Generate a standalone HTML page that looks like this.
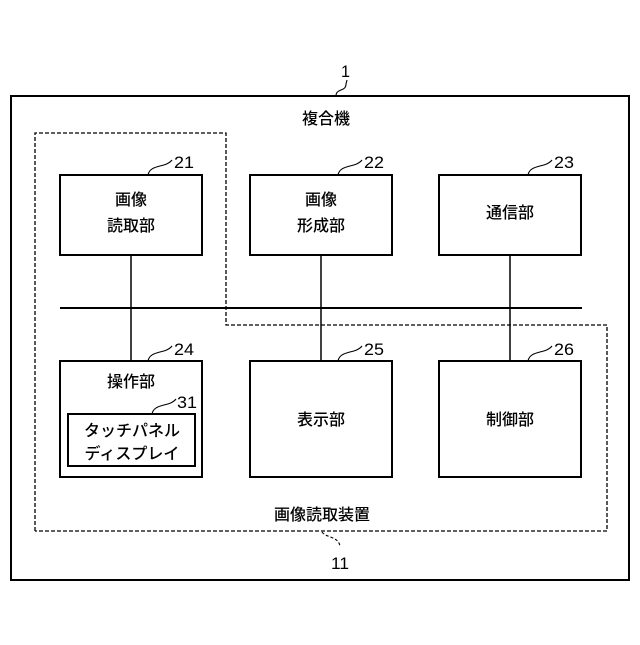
<!DOCTYPE html>
<html><head><meta charset="utf-8"><style>
html,body{margin:0;padding:0;background:#fff;}
text{font-family:"Liberation Sans","Noto Sans CJK JP",sans-serif;fill:#000;}
</style></head><body>
<svg width="640" height="640" viewBox="0 0 640 640" xmlns="http://www.w3.org/2000/svg">
<g fill="none" stroke="#000" stroke-width="2">
<rect x="11" y="96" width="618" height="484"/>
<rect x="60" y="175" width="142" height="80"/>
<rect x="250" y="175" width="142" height="80"/>
<rect x="439" y="175" width="142" height="80"/>
<rect x="60" y="361" width="142" height="116"/>
<rect x="68" y="414" width="127" height="52"/>
<rect x="250" y="361" width="142" height="116"/>
<rect x="439" y="361" width="142" height="116"/>
<line x1="60" y1="308" x2="582" y2="308"/>
</g>
<g fill="none" stroke="#000" stroke-width="1.5">
<line x1="131" y1="255" x2="131" y2="361"/>
<line x1="321" y1="255" x2="321" y2="361"/>
<line x1="510" y1="255" x2="510" y2="361"/>
</g>
<polyline points="35,531 35,133 226,133 226,325 607,325 607,531 35,531" fill="none" stroke="#000" stroke-width="1.3" stroke-dasharray="4,2"/>
<g fill="none" stroke="#000" stroke-width="1.1">
<path d="M336,96 C336,88 346,92 346,84 L347,80"/>
<path d="M148,175 C150,164 166,168 172,160"/>
<path d="M338,175 C340,164 356,168 362,160"/>
<path d="M528,175 C530,164 546,168 552,160"/>
<path d="M148,361 C150,350 166,354 172,346"/>
<path d="M338,361 C340,350 356,354 362,346"/>
<path d="M528,361 C530,350 546,354 552,346"/>
<path d="M152,414 C154,403 170,407 176,399"/>
<path d="M322,532 C326,538 338,536 340,546" stroke-dasharray="3,2"/>
</g>
<g font-size="17">
<text x="341" y="77" textLength="9" lengthAdjust="spacingAndGlyphs">1</text>
<text x="174" y="168" textLength="20" lengthAdjust="spacingAndGlyphs">21</text>
<text x="364" y="168" textLength="20" lengthAdjust="spacingAndGlyphs">22</text>
<text x="554" y="168" textLength="20" lengthAdjust="spacingAndGlyphs">23</text>
<text x="174" y="355" textLength="20" lengthAdjust="spacingAndGlyphs">24</text>
<text x="364" y="355" textLength="20" lengthAdjust="spacingAndGlyphs">25</text>
<text x="554" y="355" textLength="20" lengthAdjust="spacingAndGlyphs">26</text>
<text x="177" y="408" textLength="20" lengthAdjust="spacingAndGlyphs">31</text>
<text x="331" y="569" textLength="18" lengthAdjust="spacingAndGlyphs">11</text>
</g>
<g font-size="16" text-anchor="middle" font-weight="500">
<text x="326" y="124">複合機</text>
<text x="131" y="205">画像</text>
<text x="131" y="231">読取部</text>
<text x="321" y="205">画像</text>
<text x="321" y="231">形成部</text>
<text x="510" y="218">通信部</text>
<text x="131" y="387">操作部</text>
<text x="132" y="436">タッチパネル</text>
<text x="132" y="459">ディスプレイ</text>
<text x="321" y="425">表示部</text>
<text x="510" y="425">制御部</text>
<text x="322" y="520">画像読取装置</text>
</g>
</svg>
</body></html>
